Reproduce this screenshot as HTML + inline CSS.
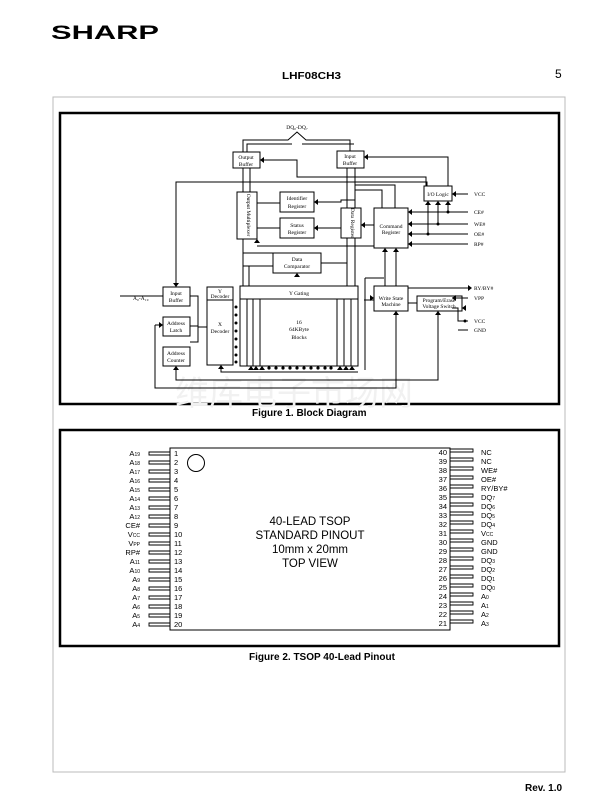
<!DOCTYPE html>
<html><head><meta charset="utf-8"><style>
html,body{margin:0;padding:0;background:#fff;}
svg{display:block;}
text{font-family:"Liberation Serif",serif;fill:#000;}
.s, .s text{font-family:"Liberation Sans",sans-serif;}
</style></head><body>
<svg width="616" height="796" viewBox="0 0 616 796" xmlns="http://www.w3.org/2000/svg">
<!-- header -->
<text x="51" y="39" class="s" font-size="19" font-weight="bold" textLength="108" lengthAdjust="spacingAndGlyphs">SHARP</text>
<text x="282" y="79" class="s" font-size="10.5" font-weight="bold" textLength="59" lengthAdjust="spacingAndGlyphs">LHF08CH3</text>
<text x="555" y="78" class="s" font-size="12">5</text>
<text x="525" y="791" class="s" font-size="10" font-weight="bold">Rev. 1.0</text>
<!-- page frame -->
<rect x="53" y="97" width="512" height="675" fill="none" stroke="#bbb" stroke-width="1"/>
<!-- figure 1 -->
<rect x="60" y="113" width="499" height="291" fill="none" stroke="#000" stroke-width="2.5"/>
<text x="175" y="405" font-size="34" style="fill:#f1f1f1" font-family="Noto Serif CJK SC,serif">维库电子市场网</text>
<text x="252" y="416" class="s" font-size="10" font-weight="bold">Figure 1.  Block Diagram</text>
<g fill="none" stroke="#000" stroke-width="1">
<rect x="233" y="152" width="27" height="16"/>
<rect x="337" y="151" width="27" height="17"/>
<rect x="424" y="186" width="28" height="15"/>
<rect x="237" y="192" width="20" height="47"/>
<rect x="280" y="192" width="34" height="20"/>
<rect x="280" y="218" width="34" height="20"/>
<rect x="341" y="208" width="20" height="30"/>
<rect x="374" y="208" width="34" height="40"/>
<rect x="273" y="253" width="48" height="20"/>
<rect x="240" y="286" width="118" height="13"/>
<rect x="240" y="299" width="118" height="67"/>
<rect x="207" y="287" width="26" height="13"/>
<rect x="207" y="300" width="26" height="65"/>
<rect x="163" y="287" width="27" height="19"/>
<rect x="163" y="317" width="27" height="19"/>
<rect x="163" y="347" width="27" height="19"/>
<rect x="374" y="286" width="34" height="25"/>
<rect x="417" y="296" width="45" height="15"/>
<path d="M247,299V366M253,299V366M260,299V366M337,299V366M344,299V366M351,299V366"/>
<path d="M243,152V140H288L297,132L306,140H350V151"/>
<path d="M247,152V144H292M302,144H354"/>
<path d="M243,168V192M250,168V192M347,168V208M355,168V208"/>
<path d="M260,160H297V177H426V186"/>
<path d="M364,157H448V186"/>
<path d="M176,287V182H427V186"/>
<path d="M355,185H395V208M355,190H382V208"/>
<path d="M314,202H341V200H355"/>
<path d="M314,228H341"/>
<path d="M361,225H374"/>
<path d="M257,203H280M257,228H280"/>
<path d="M257,246H374"/>
<path d="M243,239V253H273M321,263H347V238"/>
<path d="M243,266H273M249,266V286M243,253V286"/>
<path d="M347,238V286M355,238V286"/>
<path d="M385,248V286M396,248V286"/>
<path d="M365,278H384M365,278V370"/>
<path d="M358,293V308M364,300H374"/>
<path d="M408,303H417"/>
<path d="M408,288H468M452,298H468M452,308H458V321H468M458,330H468"/>
<path d="M452,194H468"/>
<path d="M408,212H468M408,224H468M408,234H468M408,244H468"/>
<path d="M428,201V234M438,201V224M448,201V212"/>
<path d="M190,296H198V342H190M190,326H198"/>
<path d="M198,327H207"/>
<path d="M233,304V365"/>
<path d="M120,296H163"/>
<path d="M155,325H163M155,325V388H396V311"/>
<path d="M176,366V380H438V311"/>
<path d="M221,365V372H358"/>
</g>
<g fill="#000">
<circle cx="428" cy="234" r="1.5"/><circle cx="438" cy="224" r="1.5"/><circle cx="448" cy="212" r="1.5"/>
<circle cx="465" cy="321" r="1.5"/>
<circle cx="236" cy="307" r="1.5"/><circle cx="236" cy="315" r="1.5"/><circle cx="236" cy="323" r="1.5"/><circle cx="236" cy="331" r="1.5"/><circle cx="236" cy="339" r="1.5"/><circle cx="236" cy="347" r="1.5"/><circle cx="236" cy="355" r="1.5"/><circle cx="236" cy="362" r="1.5"/>
<circle cx="269" cy="368" r="1.6"/><circle cx="276" cy="368" r="1.6"/><circle cx="283" cy="368" r="1.6"/><circle cx="290" cy="368" r="1.6"/><circle cx="297" cy="368" r="1.6"/><circle cx="304" cy="368" r="1.6"/><circle cx="311" cy="368" r="1.6"/><circle cx="318" cy="368" r="1.6"/><circle cx="325" cy="368" r="1.6"/><circle cx="331" cy="368" r="1.6"/>
<path d="M452,194l4,-3v6z"/><path d="M408,212l4,-3v6z"/><path d="M408,224l4,-3v6z"/><path d="M408,234l4,-3v6z"/><path d="M408,244l4,-3v6z"/>
<path d="M428,201l-3,4h6z"/><path d="M438,201l-3,4h6z"/><path d="M448,201l-3,4h6z"/>
<path d="M472,288l-4,-3v6z"/><path d="M452,298l4,-3v6z"/><path d="M462,308l4,-3v6z"/>
<path d="M385,248l-3,4h6z"/><path d="M396,248l-3,4h6z"/><path d="M396,311l-3,4h6z"/><path d="M438,311l-3,4h6z"/>
<path d="M374,298l-4,-3v6z"/><path d="M314,202l4,-3v6z"/><path d="M314,228l4,-3v6z"/><path d="M361,225l4,-3v6z"/>
<path d="M260,160l4,-3v6z"/><path d="M364,157l4,-3v6z"/><path d="M176,287l-3,-4h6z"/><path d="M163,325l-4,-3v6z"/>
<path d="M297,273l-3,4h6z"/><path d="M257,239l-3,4h6z"/><path d="M176,366l-3,4h6z"/><path d="M221,365l-3,4h6z"/>
<path d="M251,366l-3,4h6z"/><path d="M256,366l-3,4h6z"/><path d="M262,366l-3,4h6z"/><path d="M340,366l-3,4h6z"/><path d="M346,366l-3,4h6z"/><path d="M352,366l-3,4h6z"/>
</g>
<g font-size="5.5" text-anchor="middle">
<text x="297" y="129">DQ₀-DQ₇</text>
<text x="246" y="159">Output</text><text x="246" y="166">Buffer</text>
<text x="350" y="158">Input</text><text x="350" y="165">Buffer</text>
<text x="438" y="196">I/O Logic</text>
<text x="297" y="200">Identifier</text><text x="297" y="208">Register</text>
<text x="297" y="227">Status</text><text x="297" y="234">Register</text>
<text x="391" y="228">Command</text><text x="391" y="234">Register</text>
<text x="297" y="261">Data</text><text x="297" y="268">Comparator</text>
<text x="299" y="295">Y Gating</text>
<text x="220" y="293">Y</text><text x="220" y="298">Decoder</text>
<text x="220" y="326">X</text><text x="220" y="333">Decoder</text>
<text x="176" y="295">Input</text><text x="176" y="302">Buffer</text>
<text x="176" y="325">Address</text><text x="176" y="332">Latch</text>
<text x="176" y="355">Address</text><text x="176" y="362">Counter</text>
<text x="299" y="324">16</text><text x="299" y="331">64KByte</text><text x="299" y="339">Blocks</text>
<text x="391" y="300">Write State</text><text x="391" y="306">Machine</text>
<text x="439" y="302">Program/Erase</text><text x="439" y="308">Voltage Switch</text>
<text x="247" y="215" transform="rotate(90 247 215)">Output Multiplexer</text>
<text x="351" y="223" transform="rotate(90 351 223)">Data Register</text>
</g>
<g font-size="5.5">
<text x="474" y="196">VCC</text><text x="474" y="214">CE#</text><text x="474" y="226">WE#</text><text x="474" y="236">OE#</text><text x="474" y="246">RP#</text>
<text x="474" y="290">RY/BY#</text><text x="474" y="300">VPP</text><text x="474" y="323">VCC</text><text x="474" y="332">GND</text>
<text x="133" y="300">A₀-A₁₉</text>
</g>
<!-- figure 2 -->
<rect x="60" y="430" width="499" height="216" fill="none" stroke="#000" stroke-width="2.5"/>
<text x="249" y="660" class="s" font-size="10" font-weight="bold">Figure 2.  TSOP 40-Lead Pinout</text>
<path d="M170,448H450V630H170Z" fill="none" stroke="#000"/>
<circle cx="196" cy="463" r="8.5" fill="none" stroke="#000"/>
<g class="s" font-size="11.5" text-anchor="middle">
<text x="310" y="525">40-LEAD TSOP</text>
<text x="310" y="539">STANDARD PINOUT</text>
<text x="310" y="553">10mm x 20mm</text>
<text x="310" y="567">TOP VIEW</text>
</g>
<g class="s" font-size="7.5">
<g fill="none" stroke="#000" stroke-width="0.9">
<path d="M149,452h21v3h-21zM149,461h21v3h-21zM149,470h21v3h-21zM149,479h21v3h-21zM149,488h21v3h-21zM149,497h21v3h-21zM149,506h21v3h-21zM149,515h21v3h-21zM149,524h21v3h-21zM149,533h21v3h-21zM149,542h21v3h-21zM149,551h21v3h-21zM149,560h21v3h-21zM149,569h21v3h-21zM149,578h21v3h-21zM149,587h21v3h-21zM149,596h21v3h-21zM149,605h21v3h-21zM149,614h21v3h-21zM149,623h21v3h-21z"/>
<path d="M450,449h23v3h-23zM450,458h23v3h-23zM450,467h23v3h-23zM450,476h23v3h-23zM450,485h23v3h-23zM450,494h23v3h-23zM450,503h23v3h-23zM450,512h23v3h-23zM450,521h23v3h-23zM450,530h23v3h-23zM450,539h23v3h-23zM450,548h23v3h-23zM450,557h23v3h-23zM450,566h23v3h-23zM450,575h23v3h-23zM450,584h23v3h-23zM450,593h23v3h-23zM450,602h23v3h-23zM450,611h23v3h-23zM450,620h23v3h-23z"/>
</g>
<g text-anchor="end">
<text x="140" y="456">A<tspan font-size="5">19</tspan></text><text x="140" y="465">A<tspan font-size="5">18</tspan></text><text x="140" y="474">A<tspan font-size="5">17</tspan></text><text x="140" y="483">A<tspan font-size="5">16</tspan></text><text x="140" y="492">A<tspan font-size="5">15</tspan></text><text x="140" y="501">A<tspan font-size="5">14</tspan></text><text x="140" y="510">A<tspan font-size="5">13</tspan></text><text x="140" y="519">A<tspan font-size="5">12</tspan></text><text x="140" y="528">CE#</text><text x="140" y="537">V<tspan font-size="5">CC</tspan></text><text x="140" y="546">V<tspan font-size="5">PP</tspan></text><text x="140" y="555">RP#</text><text x="140" y="564">A<tspan font-size="5">11</tspan></text><text x="140" y="573">A<tspan font-size="5">10</tspan></text><text x="140" y="582">A<tspan font-size="5">9</tspan></text><text x="140" y="591">A<tspan font-size="5">8</tspan></text><text x="140" y="600">A<tspan font-size="5">7</tspan></text><text x="140" y="609">A<tspan font-size="5">6</tspan></text><text x="140" y="618">A<tspan font-size="5">5</tspan></text><text x="140" y="627">A<tspan font-size="5">4</tspan></text>
<text x="447" y="455">40</text><text x="447" y="464">39</text><text x="447" y="473">38</text><text x="447" y="482">37</text><text x="447" y="491">36</text><text x="447" y="500">35</text><text x="447" y="509">34</text><text x="447" y="518">33</text><text x="447" y="527">32</text><text x="447" y="536">31</text><text x="447" y="545">30</text><text x="447" y="554">29</text><text x="447" y="563">28</text><text x="447" y="572">27</text><text x="447" y="581">26</text><text x="447" y="590">25</text><text x="447" y="599">24</text><text x="447" y="608">23</text><text x="447" y="617">22</text><text x="447" y="626">21</text>
</g>
<g>
<text x="174" y="456">1</text><text x="174" y="465">2</text><text x="174" y="474">3</text><text x="174" y="483">4</text><text x="174" y="492">5</text><text x="174" y="501">6</text><text x="174" y="510">7</text><text x="174" y="519">8</text><text x="174" y="528">9</text><text x="174" y="537">10</text><text x="174" y="546">11</text><text x="174" y="555">12</text><text x="174" y="564">13</text><text x="174" y="573">14</text><text x="174" y="582">15</text><text x="174" y="591">16</text><text x="174" y="600">17</text><text x="174" y="609">18</text><text x="174" y="618">19</text><text x="174" y="627">20</text>
<text x="481" y="455">NC</text><text x="481" y="464">NC</text><text x="481" y="473">WE#</text><text x="481" y="482">OE#</text><text x="481" y="491">RY/BY#</text><text x="481" y="500">DQ<tspan font-size="5">7</tspan></text><text x="481" y="509">DQ<tspan font-size="5">6</tspan></text><text x="481" y="518">DQ<tspan font-size="5">5</tspan></text><text x="481" y="527">DQ<tspan font-size="5">4</tspan></text><text x="481" y="536">V<tspan font-size="5">CC</tspan></text><text x="481" y="545">GND</text><text x="481" y="554">GND</text><text x="481" y="563">DQ<tspan font-size="5">3</tspan></text><text x="481" y="572">DQ<tspan font-size="5">2</tspan></text><text x="481" y="581">DQ<tspan font-size="5">1</tspan></text><text x="481" y="590">DQ<tspan font-size="5">0</tspan></text><text x="481" y="599">A<tspan font-size="5">0</tspan></text><text x="481" y="608">A<tspan font-size="5">1</tspan></text><text x="481" y="617">A<tspan font-size="5">2</tspan></text><text x="481" y="626">A<tspan font-size="5">3</tspan></text>
</g>
</g>
</svg>
</body></html>
